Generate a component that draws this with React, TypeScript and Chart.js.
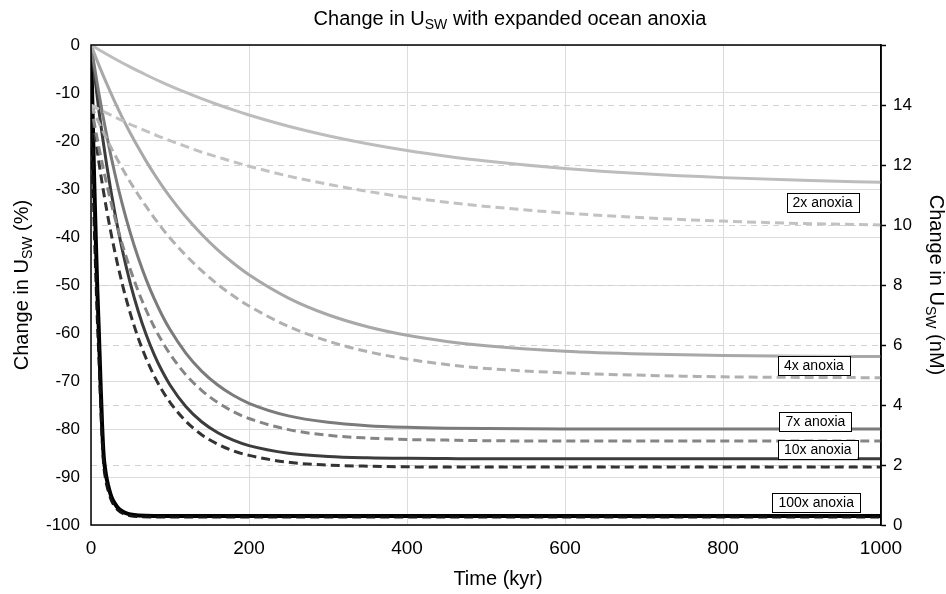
import React, { useEffect, useRef } from "react";
import { Chart, registerables } from "chart.js";
Chart.register(...registerables);

// ---------- data ----------
const TIME = [0, 10, 20, 30, 40, 50, 60, 70, 80, 90, 100, 120, 140, 160, 180, 200, 250, 300, 350, 400, 450, 500, 600, 700, 800, 900, 1000];

const PCT_2X = [0, -0.99, -1.94, -2.86, -3.75, -4.61, -5.45, -6.25, -7.03, -7.78, -8.51, -9.89, -11.19, -12.39, -13.52, -14.58, -16.92, -18.89, -20.56, -21.97, -23.16, -24.17, -25.73, -26.84, -27.63, -28.2, -28.6];
const NM_2X = [14.0, 13.86, 13.73, 13.6, 13.48, 13.35, 13.24, 13.13, 13.02, 12.91, 12.81, 12.62, 12.43, 12.27, 12.11, 11.96, 11.63, 11.36, 11.12, 10.92, 10.76, 10.62, 10.4, 10.24, 10.13, 10.05, 10.0];

const PCT_4X = [0, -4.19, -8.11, -11.78, -15.22, -18.43, -21.43, -24.24, -26.87, -29.33, -31.63, -35.8, -39.44, -42.63, -45.42, -47.87, -52.72, -56.2, -58.7, -60.48, -61.76, -62.68, -63.81, -64.39, -64.69, -64.84, -64.92];
const NM_4X = [14.0, 13.41, 12.86, 12.35, 11.87, 11.42, 11.0, 10.61, 10.24, 9.89, 9.57, 8.99, 8.48, 8.03, 7.64, 7.3, 6.62, 6.13, 5.78, 5.53, 5.35, 5.22, 5.07, 4.99, 4.94, 4.92, 4.91];

const PCT_7X = [0, -10.11, -18.94, -26.66, -33.41, -39.3, -44.44, -48.94, -52.86, -56.29, -59.29, -64.19, -67.94, -70.79, -72.98, -74.64, -77.27, -78.61, -79.3, -79.64, -79.82, -79.91, -79.98, -80.0, -80.0, -80.0, -80.0];
const NM_7X = [14.0, 12.58, 11.35, 10.27, 9.32, 8.5, 7.78, 7.15, 6.6, 6.12, 5.7, 5.01, 4.49, 4.09, 3.78, 3.55, 3.18, 2.99, 2.9, 2.85, 2.83, 2.81, 2.8, 2.8, 2.8, 2.8, 2.8];

const PCT_10X = [0, -13.65, -25.14, -34.81, -42.95, -49.8, -55.56, -60.42, -64.49, -67.93, -70.82, -75.31, -78.49, -80.73, -82.33, -83.46, -85.04, -85.71, -85.99, -86.11, -86.16, -86.2, -86.2, -86.2, -86.2, -86.2, -86.2];
const NM_10X = [14.0, 12.09, 10.48, 9.13, 7.99, 7.03, 6.22, 5.54, 4.97, 4.49, 4.09, 3.46, 3.01, 2.7, 2.47, 2.32, 2.09, 2.0, 1.96, 1.94, 1.93, 1.93, 1.93, 1.93, 1.93, 1.93, 1.93];

const TIME_100X = [0, 2, 4, 6, 8, 10, 12, 14, 16, 18, 20, 23, 26, 30, 35, 40, 45, 50, 60, 80, 100, 200, 400, 600, 800, 1000];
const PCT_100X = [0, -14, -28, -40, -51, -60, -70, -79, -85.5, -88.5, -90.5, -92.6, -94.2, -95.5, -96.6, -97.2, -97.6, -97.8, -98.0, -98.1, -98.1, -98.1, -98.1, -98.1, -98.1, -98.1];
const NM_100X = [14.0, 12.04, 10.08, 8.4, 6.86, 5.6, 4.2, 2.94, 2.03, 1.61, 1.33, 1.04, 0.81, 0.63, 0.48, 0.39, 0.34, 0.31, 0.28, 0.27, 0.27, 0.27, 0.27, 0.27, 0.27, 0.27];

const SERIES_NAMES = ["2x anoxia", "4x anoxia", "7x anoxia", "10x anoxia", "100x anoxia"];
const LABEL_TIME = [926, 915, 917, 920, 918];
const LABEL_PCT = [-32.8, -66.7, -78.5, -84.3, -95.3];

const SOLID_COLORS = ["#bdbdbd", "#a8a8a8", "#7b7b7b", "#3c3c3c", "#000000"];
const DASH_COLORS = ["#c2c2c2", "#b0b0b0", "#858585", "#333333", "#111111"];

const FONT = '"Liberation Sans", Arial, sans-serif';

function pts(xs: number[], ys: number[]) {
  return xs.map((x, i) => ({ x, y: ys[i] }));
}

function drawSub(ctx: CanvasRenderingContext2D, a: string, sub: string, b: string, size: number) {
  const subSize = Math.round(size * 0.68);
  ctx.font = `${size}px ${FONT}`;
  const wa = ctx.measureText(a).width;
  const wb = ctx.measureText(b).width;
  ctx.font = `${subSize}px ${FONT}`;
  const ws = ctx.measureText(sub).width;
  const total = wa + ws + wb;
  let x = -total / 2;
  ctx.textAlign = "left";
  ctx.textBaseline = "alphabetic";
  ctx.font = `${size}px ${FONT}`;
  ctx.fillText(a, x, 0);
  x += wa;
  ctx.font = `${subSize}px ${FONT}`;
  ctx.fillText(sub, x, size * 0.22);
  x += ws;
  ctx.font = `${size}px ${FONT}`;
  ctx.fillText(b, x, 0);
}

const overlayPlugin = {
  id: "overlay",
  afterDraw(chart: any) {
    const { ctx, chartArea: ca, scales } = chart;
    ctx.save();
    ctx.strokeStyle = "#000";
    ctx.lineWidth = 1.5;
    ctx.setLineDash([]);
    ctx.strokeRect(ca.left, ca.top, ca.right - ca.left, ca.bottom - ca.top);

    ctx.font = `14px ${FONT}`;
    ctx.textAlign = "center";
    ctx.textBaseline = "middle";
    SERIES_NAMES.forEach((name, i) => {
      const cx = scales.x.getPixelForValue(LABEL_TIME[i]);
      const cy = scales.y.getPixelForValue(LABEL_PCT[i]);
      const w = ctx.measureText(name).width + 12;
      const h = 19;
      ctx.fillStyle = "#fff";
      ctx.fillRect(cx - w / 2, cy - h / 2, w, h);
      ctx.strokeStyle = "#000";
      ctx.lineWidth = 1;
      ctx.strokeRect(Math.round(cx - w / 2) + 0.5, Math.round(cy - h / 2) + 0.5, Math.round(w), h);
      ctx.fillStyle = "#000";
      ctx.fillText(name, cx, cy + 0.5);
    });

    ctx.fillStyle = "#000";
    ctx.save();
    ctx.translate(510, 25);
    drawSub(ctx, "Change in U", "SW", " with expanded ocean anoxia", 20);
    ctx.restore();

    ctx.save();
    ctx.translate(28, (ca.top + ca.bottom) / 2);
    ctx.rotate(-Math.PI / 2);
    drawSub(ctx, "Change in U", "SW", " (%)", 20);
    ctx.restore();

    ctx.save();
    ctx.translate(930, (ca.top + ca.bottom) / 2);
    ctx.rotate(Math.PI / 2);
    drawSub(ctx, "Change in U", "SW", " (nM)", 20);
    ctx.restore();

    ctx.font = `20px ${FONT}`;
    ctx.textAlign = "center";
    ctx.textBaseline = "alphabetic";
    ctx.fillText("Time (kyr)", 498, 585);

    ctx.restore();
  },
};

export default function App() {
  const ref = useRef<HTMLCanvasElement | null>(null);

  useEffect(() => {
    if (!ref.current) return;
    Chart.defaults.font.family = FONT;
    const pctSets = [PCT_2X, PCT_4X, PCT_7X, PCT_10X, PCT_100X];
    const nmSets = [NM_2X, NM_4X, NM_7X, NM_10X, NM_100X];
    const times = [TIME, TIME, TIME, TIME, TIME_100X];
    const datasets: any[] = [];
    for (let i = 0; i < 5; i++) {
      datasets.push({
        label: SERIES_NAMES[i] + " (nM)",
        data: pts(times[i], nmSets[i]),
        yAxisID: "y2",
        borderColor: DASH_COLORS[i],
        borderWidth: 3,
        borderDash: [9, 5],
        pointRadius: 0,
        fill: false,
        cubicInterpolationMode: "monotone",
      });
      datasets.push({
        label: SERIES_NAMES[i] + " (%)",
        data: pts(times[i], pctSets[i]),
        yAxisID: "y",
        borderColor: SOLID_COLORS[i],
        borderWidth: i === 4 ? 4 : 3,
        pointRadius: 0,
        fill: false,
        cubicInterpolationMode: "monotone",
      });
    }

    const chart = new Chart(ref.current, {
      type: "line",
      data: { datasets },
      plugins: [overlayPlugin],
      options: {
        animation: false,
        responsive: true,
        maintainAspectRatio: false,
        layout: { padding: { top: 45, left: 0, right: 0, bottom: 0 } },
        plugins: { legend: { display: false }, tooltip: { enabled: false }, title: { display: false } },
        scales: {
          x: {
            type: "linear",
            min: 0,
            max: 1000,
            ticks: {
              stepSize: 200,
              color: "#000",
              font: { size: 19 },
              padding: 12,
              maxRotation: 0,
              callback: (v: any) => String(v),
            },
            grid: { color: "#dcdcdc", lineWidth: 1, drawTicks: false },
            border: { display: false },
            afterFit: (s: any) => { s.height = 69; },
          },
          y: {
            type: "linear",
            position: "left",
            min: -100,
            max: 0,
            ticks: { stepSize: 10, color: "#000", font: { size: 17 }, padding: 11 },
            grid: { color: "#dcdcdc", lineWidth: 1, drawTicks: false },
            border: { display: false },
            afterFit: (s: any) => { s.width = 91; },
          },
          y2: {
            type: "linear",
            position: "right",
            min: 0,
            max: 16,
            ticks: {
              stepSize: 2,
              color: "#000",
              font: { size: 17 },
              padding: 7,
              callback: (v: any) => (v === 16 ? "" : String(v)),
            },
            grid: { color: "#d2d2d2", lineWidth: 1, drawTicks: true, tickLength: 5, tickColor: "#000", tickWidth: 1.5 },
            border: { display: true, color: "#000", width: 1.5, dash: [6, 5] },
            afterFit: (s: any) => { s.width = 65; },
          },
        },
      } as any,
    });
    return () => chart.destroy();
  }, []);

  return (
    <div style={{ position: "fixed", left: 0, top: 0, width: 946, height: 594, background: "#fff" }}>
      <canvas ref={ref} />
    </div>
  );
}
